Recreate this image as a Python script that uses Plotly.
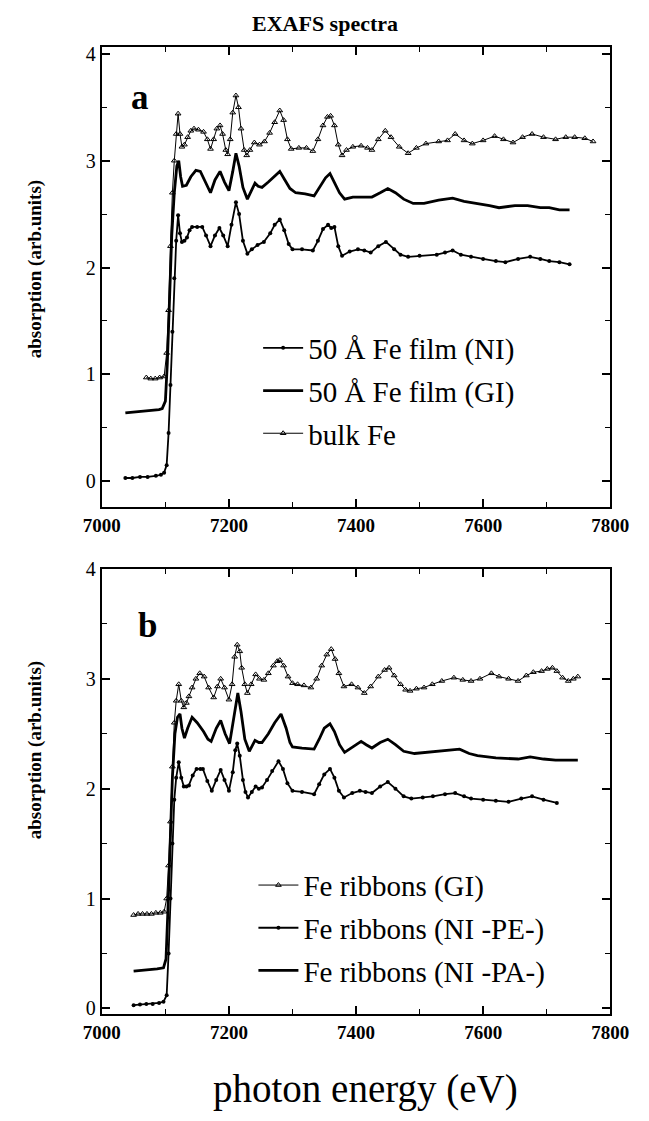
import plotly.graph_objects as go

# ---------------- Panel a data ----------------
a_ni_E = [7037, 7048, 7060, 7072, 7085, 7093, 7098, 7102, 7105, 7108, 7111, 7114, 7117,
          7120, 7123, 7126, 7130, 7134, 7138, 7142, 7150, 7158, 7164, 7171, 7178, 7185, 7191, 7198,
          7204, 7211, 7216, 7222, 7229, 7236, 7245, 7255, 7265, 7272, 7280, 7287, 7294, 7300, 7315,
          7332, 7340, 7348, 7356, 7361, 7366, 7372, 7378, 7390, 7403, 7413, 7423, 7435, 7447, 7460,
          7470, 7482, 7500, 7527, 7540, 7552, 7565, 7581, 7600, 7620, 7635, 7655, 7674, 7690, 7704,
          7720, 7736]
a_ni_y = [0.03, 0.03, 0.04, 0.04, 0.05, 0.06, 0.08, 0.15, 0.45, 0.90, 1.40, 1.90, 2.25,
          2.49, 2.32, 2.24, 2.25, 2.28, 2.35, 2.38, 2.38, 2.38, 2.30, 2.20, 2.30, 2.37, 2.30, 2.20,
          2.40, 2.61, 2.50, 2.25, 2.13, 2.17, 2.21, 2.24, 2.32, 2.40, 2.45, 2.35, 2.22, 2.17, 2.17,
          2.16, 2.25, 2.36, 2.40, 2.37, 2.38, 2.20, 2.11, 2.15, 2.17, 2.16, 2.14, 2.20, 2.24, 2.17,
          2.12, 2.10, 2.11, 2.12, 2.14, 2.16, 2.12, 2.10, 2.08, 2.06, 2.05, 2.08, 2.10, 2.08, 2.06,
          2.05, 2.03]

a_gi_E = [7037, 7048, 7060, 7072, 7080, 7090, 7095, 7100, 7103, 7106, 7110, 7114, 7118,
          7121, 7124, 7127, 7133, 7140, 7148, 7155, 7163, 7171, 7178, 7186, 7193, 7200, 7206, 7211,
          7216, 7222, 7229, 7236, 7241, 7246, 7252, 7262, 7272, 7280, 7288, 7296, 7305, 7320, 7334,
          7345, 7352, 7359, 7366, 7374, 7382, 7395, 7410, 7425, 7438, 7450, 7462, 7475, 7490, 7507,
          7530, 7552, 7570, 7591, 7610, 7625, 7650, 7670, 7690, 7704, 7720, 7736]
a_gi_y = [0.64, 0.645, 0.65, 0.655, 0.66, 0.67, 0.68, 0.75, 1.10, 1.70, 2.30, 2.70, 2.95,
          3.00, 2.85, 2.76, 2.77, 2.85, 2.91, 2.90, 2.80, 2.70, 2.82, 2.90, 2.80, 2.72, 2.90, 3.07,
          2.95, 2.75, 2.64, 2.72, 2.79, 2.76, 2.75, 2.80, 2.86, 2.90, 2.82, 2.74, 2.70, 2.69, 2.67,
          2.77, 2.84, 2.88, 2.80, 2.70, 2.64, 2.66, 2.66, 2.66, 2.70, 2.74, 2.70, 2.64, 2.60, 2.60,
          2.63, 2.65, 2.62, 2.60, 2.58, 2.56, 2.58, 2.58, 2.56, 2.56, 2.54, 2.54]

a_bulk_E = [7070, 7077, 7084, 7091, 7098, 7102, 7105, 7108, 7111, 7114, 7117,
            7120, 7123, 7126, 7130, 7135, 7140, 7145, 7152, 7160, 7166, 7171, 7176, 7181, 7186,
            7190, 7195, 7198, 7202, 7206, 7211, 7215, 7219, 7224, 7228, 7233, 7240, 7248, 7256,
            7264, 7272, 7280, 7286, 7292, 7298, 7310, 7322, 7332, 7340, 7348, 7355, 7360, 7366,
            7372, 7378, 7385, 7395, 7408, 7418, 7425, 7435, 7446, 7455, 7468, 7482, 7495, 7510,
            7530, 7544, 7556, 7570, 7583, 7600, 7618, 7632, 7647, 7662, 7677, 7695, 7714, 7730,
            7744, 7760, 7773]
a_bulk_y = [0.97, 0.96, 0.96, 0.97, 0.98, 1.20, 1.60, 2.20, 2.70, 3.00, 3.25,
            3.44, 3.25, 3.13, 3.15, 3.22, 3.28, 3.30, 3.29, 3.27, 3.20, 3.11, 3.20, 3.30, 3.33,
            3.25, 3.10, 3.06, 3.20, 3.45, 3.61, 3.50, 3.30, 3.10, 3.05, 3.10, 3.17, 3.15, 3.18,
            3.26, 3.36, 3.47, 3.38, 3.20, 3.11, 3.12, 3.12, 3.09, 3.20, 3.33, 3.41, 3.42, 3.33,
            3.15, 3.05, 3.10, 3.13, 3.14, 3.12, 3.10, 3.20, 3.28, 3.22, 3.13, 3.07, 3.12, 3.16,
            3.18, 3.19, 3.25, 3.19, 3.16, 3.19, 3.23, 3.20, 3.17, 3.22, 3.25, 3.22, 3.20, 3.22,
            3.22, 3.21, 3.18]

# ---------------- Panel b data ----------------
b_gi_E = [7050, 7057, 7064, 7071, 7078, 7085, 7092, 7098, 7102, 7105, 7108, 7111, 7114, 7117,
          7121, 7125, 7129, 7133, 7137, 7142, 7148, 7154, 7161, 7168, 7176, 7182, 7187, 7193, 7200,
          7205, 7209, 7213, 7217, 7220, 7225, 7229, 7235, 7242, 7248, 7255, 7262, 7270, 7276, 7280,
          7286, 7293, 7300, 7308, 7318, 7329, 7338, 7346, 7354, 7361, 7367, 7373, 7381, 7393, 7403,
          7413, 7423, 7435, 7445, 7452, 7460, 7470, 7478, 7485, 7495, 7507, 7520, 7535, 7554, 7568,
          7581, 7595, 7613, 7625, 7640, 7655, 7668, 7679, 7692, 7701, 7709, 7716, 7725, 7734, 7742,
          7749]
b_gi_y = [0.85, 0.86, 0.86, 0.86, 0.86, 0.87, 0.87, 0.88, 1.00, 1.30, 1.70, 2.20, 2.60, 2.80,
          2.95, 2.80, 2.74, 2.78, 2.84, 2.92, 3.00, 3.05, 3.02, 2.92, 2.83, 2.93, 3.00, 2.92, 2.81,
          2.95, 3.20, 3.31, 3.25, 3.10, 2.95, 2.87, 2.95, 3.04, 3.00, 2.99, 3.05, 3.12, 3.16, 3.17,
          3.12, 3.02, 2.96, 2.95, 2.94, 2.92, 3.00, 3.12, 3.22, 3.27, 3.18, 3.05, 2.93, 2.95, 2.92,
          2.87, 2.93, 3.02, 3.08, 3.10, 3.03, 2.95, 2.90, 2.89, 2.91, 2.92, 2.95, 2.98, 3.01, 2.99,
          2.98, 3.00, 3.05, 3.02, 3.00, 2.98, 3.03, 3.06, 3.07, 3.09, 3.10, 3.07, 3.01, 2.98, 3.00,
          3.02]

b_pe_E = [7050, 7060, 7070, 7080, 7090, 7097, 7102, 7105, 7108, 7111, 7114, 7117,
          7121, 7125, 7129, 7133, 7137, 7143, 7149, 7155, 7159, 7166, 7173, 7180, 7187, 7193, 7200,
          7206, 7210, 7213, 7217, 7222, 7226, 7230, 7236, 7242, 7247, 7252, 7260, 7268, 7278, 7285,
          7292, 7300, 7315, 7334, 7342, 7350, 7359, 7366, 7373, 7381, 7394, 7406, 7415, 7425, 7438,
          7450, 7462, 7475, 7487, 7505, 7521, 7540, 7556, 7570, 7581, 7600, 7620, 7640, 7660, 7677,
          7695, 7716]
b_pe_y = [0.03, 0.035, 0.04, 0.04, 0.05, 0.06, 0.12, 0.50, 1.00, 1.50, 1.90, 2.10,
          2.24, 2.10, 2.02, 2.02, 2.03, 2.12, 2.18, 2.18, 2.18, 2.07, 1.98, 2.08, 2.17, 2.08, 1.98,
          2.15, 2.35, 2.41, 2.30, 2.08, 1.97, 1.92, 1.97, 2.02, 2.00, 2.01, 2.08, 2.16, 2.25, 2.18,
          2.05, 1.98, 1.97, 1.95, 2.04, 2.13, 2.18, 2.10, 1.98, 1.92, 1.96, 1.98, 1.97, 1.96, 2.02,
          2.06, 2.00, 1.93, 1.91, 1.92, 1.93, 1.95, 1.96, 1.93, 1.91, 1.90, 1.89, 1.88, 1.91, 1.93,
          1.90, 1.87]

b_pa_E = [7050, 7062, 7075, 7087, 7097, 7101, 7104, 7107, 7111, 7115, 7119,
          7123, 7126, 7130, 7135, 7142, 7150, 7160, 7167, 7172, 7180, 7187, 7194, 7201, 7208, 7214,
          7219, 7225, 7232, 7237, 7241, 7247, 7252, 7262, 7272, 7282, 7290, 7296, 7300, 7315, 7334,
          7342, 7350, 7359, 7366, 7374, 7382, 7395, 7408, 7416, 7425, 7438, 7450, 7462, 7475, 7492,
          7510, 7531, 7548, 7563, 7578, 7591, 7620, 7655, 7674, 7695, 7714, 7730, 7749]
b_pa_y = [0.34, 0.345, 0.35, 0.36, 0.37, 0.45, 0.90, 1.50, 2.10, 2.50, 2.65,
          2.68, 2.55, 2.46, 2.55, 2.65, 2.60, 2.52, 2.45, 2.43, 2.55, 2.62, 2.50, 2.41, 2.65, 2.87,
          2.70, 2.45, 2.34, 2.40, 2.44, 2.42, 2.42, 2.50, 2.60, 2.68, 2.55, 2.42, 2.38, 2.37, 2.36,
          2.45, 2.55, 2.59, 2.52, 2.40, 2.33, 2.38, 2.43, 2.40, 2.37, 2.42, 2.45, 2.40, 2.34, 2.32,
          2.33, 2.34, 2.35, 2.36, 2.32, 2.30, 2.28, 2.27, 2.29, 2.27, 2.26, 2.26, 2.26]

legend_a = ["50 Å Fe film (NI)", "50 Å Fe film (GI)", "bulk Fe"]
legend_b = ["Fe ribbons (GI)", "Fe ribbons (NI -PE-)", "Fe ribbons (NI -PA-)"]
x_ticks = [7000, 7200, 7400, 7600, 7800]
y_ticks = [0, 1, 2, 3, 4]

SERIF = "Liberation Serif"
BLACK = "black"

fig = go.Figure()

def dots(E, y, name, xa, ya, leg, grp):
    fig.add_trace(go.Scatter(x=E, y=y, name=name, mode="lines+markers", xaxis=xa, yaxis=ya,
                             legend=leg, legendgroup=grp,
                             line=dict(color=BLACK, width=1.8),
                             marker=dict(symbol="circle", size=4, color=BLACK)))

def thick(E, y, name, xa, ya, leg, grp):
    fig.add_trace(go.Scatter(x=E, y=y, name=name, mode="lines", xaxis=xa, yaxis=ya,
                             legend=leg, legendgroup=grp,
                             line=dict(color=BLACK, width=2.8)))

def tri(E, y, name, xa, ya, leg, grp):
    fig.add_trace(go.Scatter(x=E, y=y, name=name, mode="lines+markers", xaxis=xa, yaxis=ya,
                             legend=leg, legendgroup=grp,
                             line=dict(color=BLACK, width=1),
                             marker=dict(symbol="triangle-up-open", size=5, color=BLACK,
                                         line=dict(width=1, color=BLACK))))

# panel a
dots(a_ni_E, a_ni_y, legend_a[0], "x", "y", "legend", "a1")
thick(a_gi_E, a_gi_y, legend_a[1], "x", "y", "legend", "a2")
tri(a_bulk_E, a_bulk_y, legend_a[2], "x", "y", "legend", "a3")
# panel b
tri(b_gi_E, b_gi_y, legend_b[0], "x2", "y2", "legend2", "b1")
dots(b_pe_E, b_pe_y, legend_b[1], "x2", "y2", "legend2", "b2")
thick(b_pa_E, b_pa_y, legend_b[2], "x2", "y2", "legend2", "b3")

W, H = 649, 1121
def px_x(p): return p / W
def px_y(p): return 1 - p / H

xaxis_common = dict(range=[7000, 7800], tickvals=x_ticks, ticktext=[f"<b>{v}</b>" for v in x_ticks],
                    showline=True, linecolor=BLACK, linewidth=2, mirror="allticks",
                    ticks="inside", ticklen=8, tickwidth=1.5, tickcolor=BLACK,
                    minor=dict(ticks="inside", dtick=100, ticklen=5, tickwidth=1.2, tickcolor=BLACK),
                    showgrid=False, zeroline=False,
                    tickfont=dict(family=SERIF, size=19, color=BLACK), domain=[px_x(88), px_x(628)])
yaxis_common = dict(tickvals=y_ticks, showline=True, linecolor=BLACK, linewidth=2, mirror="allticks",
                    ticks="inside", ticklen=8, tickwidth=1.5, tickcolor=BLACK,
                    minor=dict(ticks="inside", dtick=0.5, ticklen=5, tickwidth=1.2, tickcolor=BLACK),
                    showgrid=False, zeroline=False,
                    tickfont=dict(family=SERIF, size=20, color=BLACK))

legend_common = dict(xanchor="left", yanchor="top", bgcolor="rgba(0,0,0,0)",
                     font=dict(family=SERIF, size=29, color=BLACK),
                     traceorder="grouped", tracegroupgap=2, itemwidth=40)

def label(text, xp, yp, size, angle=0):
    return dict(text=text, x=px_x(xp), y=px_y(yp), xref="paper", yref="paper",
                xanchor="center", yanchor="middle", showarrow=False, textangle=angle,
                font=dict(family=SERIF, size=size, color=BLACK))

fig.update_layout(
    width=W, height=H, margin=dict(l=0, r=0, t=0, b=0),
    paper_bgcolor="white", plot_bgcolor="white",
    font=dict(family=SERIF, color=BLACK),
    xaxis=dict(**xaxis_common, anchor="y"),
    xaxis2=dict(**xaxis_common, anchor="y2"),
    yaxis=dict(**yaxis_common, range=[-0.24, 4.06], domain=[px_y(503), px_y(37)], anchor="x"),
    yaxis2=dict(**yaxis_common, range=[-0.055, 4.0], domain=[px_y(1018), px_y(566)], anchor="x2"),
    legend=dict(**legend_common, x=px_x(254), y=px_y(316)),
    legend2=dict(**legend_common, x=px_x(249), y=px_y(861)),
    annotations=[
        label("<b>EXAFS spectra</b>", 325, 13, 22),
        label("<b>a</b>", 128, 88, 35),
        label("<b>b</b>", 137, 623, 35),
        label("<b>absorption (arb.units)</b>", 17, 262, 19, -90),
        label("<b>absorption (arb.units)</b>", 17, 750, 19, -90),
        label("photon energy (eV)", 368, 1094, 39),
    ],
)

fig.write_html("out.html")
